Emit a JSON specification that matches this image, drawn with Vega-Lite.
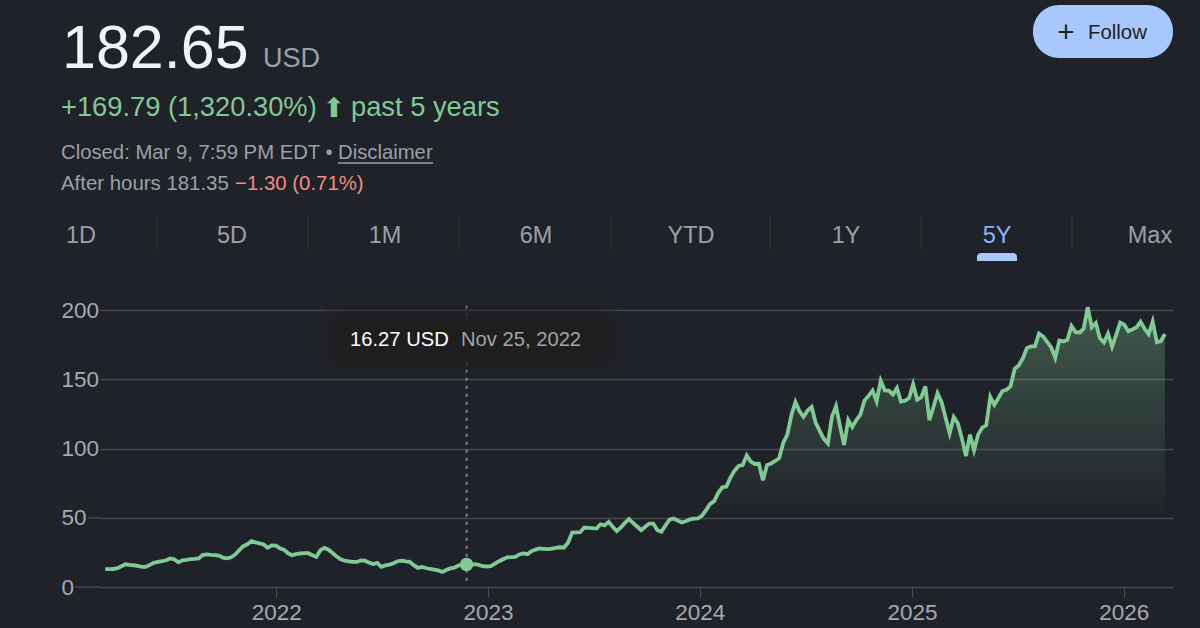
{
  "$schema": "https://vega.github.io/schema/vega-lite/v6.json",
  "description": "Five year stock price quote card.",
  "autosize": {"type": "none"},
  "padding": {"left": 100, "top": 310, "right": 27, "bottom": 41},
  "width": 1073,
  "height": 277,
  "background": "#202229",
  "config": {
    "font": "Liberation Sans",
    "view": {"stroke": null},
    "text": {"baseline": "alphabetic", "align": "left"}
  },
  "datasets": {
    "price": [
      {"date":"2021-03-12","close":12.9},{"date":"2021-03-19","close":12.9},{"date":"2021-03-26","close":13},
      {"date":"2021-04-02","close":13.6},{"date":"2021-04-09","close":15},{"date":"2021-04-16","close":16.4},{"date":"2021-04-23","close":16},{"date":"2021-04-30","close":15.7},
      {"date":"2021-05-07","close":15.2},{"date":"2021-05-14","close":14.5},{"date":"2021-05-21","close":14.6},{"date":"2021-05-28","close":16},
      {"date":"2021-06-04","close":17.5},{"date":"2021-06-11","close":18.2},{"date":"2021-06-18","close":18.6},{"date":"2021-06-25","close":19.3},
      {"date":"2021-07-02","close":20.6},{"date":"2021-07-09","close":20},{"date":"2021-07-16","close":17.8},{"date":"2021-07-23","close":19.3},{"date":"2021-07-30","close":19.6},
      {"date":"2021-08-06","close":20.2},{"date":"2021-08-13","close":20.3},{"date":"2021-08-20","close":20.6},{"date":"2021-08-27","close":23},
      {"date":"2021-09-03","close":23.5},{"date":"2021-09-10","close":23.2},{"date":"2021-09-17","close":23},{"date":"2021-09-24","close":22.7},
      {"date":"2021-10-01","close":21.2},{"date":"2021-10-08","close":20.7},{"date":"2021-10-15","close":21.5},{"date":"2021-10-22","close":23.4},{"date":"2021-10-29","close":26.5},
      {"date":"2021-11-05","close":29.5},{"date":"2021-11-12","close":30.8},{"date":"2021-11-19","close":33.2},{"date":"2021-11-26","close":32.2},
      {"date":"2021-12-03","close":31.5},{"date":"2021-12-10","close":30.7},{"date":"2021-12-17","close":28.3},{"date":"2021-12-24","close":30},{"date":"2021-12-31","close":29.8},
      {"date":"2022-01-07","close":28},{"date":"2022-01-14","close":27},{"date":"2022-01-21","close":24.5},{"date":"2022-01-28","close":23},
      {"date":"2022-02-04","close":23.7},{"date":"2022-02-11","close":24.2},{"date":"2022-02-18","close":24.4},{"date":"2022-02-25","close":24.4},
      {"date":"2022-03-04","close":22.9},{"date":"2022-03-11","close":21.7},{"date":"2022-03-18","close":26.6},{"date":"2022-03-25","close":28.2},
      {"date":"2022-04-01","close":26.9},{"date":"2022-04-08","close":24.5},{"date":"2022-04-15","close":22},{"date":"2022-04-22","close":20},{"date":"2022-04-29","close":19},
      {"date":"2022-05-06","close":18.5},{"date":"2022-05-13","close":18.1},{"date":"2022-05-20","close":18.1},{"date":"2022-05-27","close":19.2},
      {"date":"2022-06-03","close":19},{"date":"2022-06-10","close":17.6},{"date":"2022-06-17","close":16.6},{"date":"2022-06-24","close":17.4},
      {"date":"2022-07-01","close":14.5},{"date":"2022-07-08","close":15.6},{"date":"2022-07-15","close":16.2},{"date":"2022-07-22","close":17.2},{"date":"2022-07-29","close":18.6},
      {"date":"2022-08-05","close":19},{"date":"2022-08-12","close":18.5},{"date":"2022-08-19","close":18.2},{"date":"2022-08-26","close":15.8},
      {"date":"2022-09-02","close":13.8},{"date":"2022-09-09","close":14.5},{"date":"2022-09-16","close":13.7},{"date":"2022-09-23","close":13},{"date":"2022-09-30","close":12.5},
      {"date":"2022-10-07","close":12},{"date":"2022-10-14","close":10.9},{"date":"2022-10-21","close":12.3},{"date":"2022-10-28","close":13.4},
      {"date":"2022-11-04","close":14},{"date":"2022-11-11","close":15.5},{"date":"2022-11-18","close":16.2},{"date":"2022-11-25","close":16.27},
      {"date":"2022-12-02","close":16},{"date":"2022-12-09","close":16.5},{"date":"2022-12-16","close":16},{"date":"2022-12-23","close":15},{"date":"2022-12-30","close":14.8},
      {"date":"2023-01-06","close":15},{"date":"2023-01-13","close":16.8},{"date":"2023-01-20","close":18.6},{"date":"2023-01-27","close":20},
      {"date":"2023-02-03","close":21.4},{"date":"2023-02-10","close":21.5},{"date":"2023-02-17","close":21.7},{"date":"2023-02-24","close":23.5},
      {"date":"2023-03-03","close":24.2},{"date":"2023-03-10","close":23.7},{"date":"2023-03-17","close":25.8},{"date":"2023-03-24","close":27},{"date":"2023-03-31","close":27.8},
      {"date":"2023-04-07","close":27.6},{"date":"2023-04-14","close":27.3},{"date":"2023-04-21","close":27.7},{"date":"2023-04-28","close":28.3},
      {"date":"2023-05-05","close":28.7},{"date":"2023-05-12","close":28.5},{"date":"2023-05-19","close":32},{"date":"2023-05-26","close":39.3},
      {"date":"2023-06-02","close":39.5},{"date":"2023-06-09","close":39.6},{"date":"2023-06-16","close":42.9},{"date":"2023-06-23","close":42.7},{"date":"2023-06-30","close":42.5},
      {"date":"2023-07-07","close":42.2},{"date":"2023-07-14","close":45.3},{"date":"2023-07-21","close":44.5},{"date":"2023-07-28","close":47},
      {"date":"2023-08-04","close":43.5},{"date":"2023-08-11","close":40.3},{"date":"2023-08-18","close":43},{"date":"2023-08-25","close":46.3},
      {"date":"2023-09-01","close":49},{"date":"2023-09-08","close":46.3},{"date":"2023-09-15","close":43.7},{"date":"2023-09-22","close":41},{"date":"2023-09-29","close":43.5},
      {"date":"2023-10-06","close":45.8},{"date":"2023-10-13","close":45.8},{"date":"2023-10-20","close":41},{"date":"2023-10-27","close":40},
      {"date":"2023-11-03","close":44.5},{"date":"2023-11-10","close":48.6},{"date":"2023-11-17","close":49.5},{"date":"2023-11-24","close":48},
      {"date":"2023-12-01","close":46.6},{"date":"2023-12-08","close":47.5},{"date":"2023-12-15","close":48.8},{"date":"2023-12-22","close":49.3},{"date":"2023-12-29","close":49.5},
      {"date":"2024-01-05","close":51.5},{"date":"2024-01-12","close":55.5},{"date":"2024-01-19","close":60},{"date":"2024-01-26","close":62},
      {"date":"2024-02-02","close":68},{"date":"2024-02-09","close":72},{"date":"2024-02-16","close":72.5},{"date":"2024-02-23","close":79},
      {"date":"2024-03-01","close":84},{"date":"2024-03-08","close":87.4},{"date":"2024-03-15","close":88},{"date":"2024-03-22","close":95},{"date":"2024-03-29","close":90.5},
      {"date":"2024-04-05","close":88.8},{"date":"2024-04-12","close":89},{"date":"2024-04-19","close":77},{"date":"2024-04-26","close":88},
      {"date":"2024-05-03","close":89.2},{"date":"2024-05-10","close":91},{"date":"2024-05-17","close":93},{"date":"2024-05-24","close":104},{"date":"2024-05-31","close":110},
      {"date":"2024-06-07","close":124},{"date":"2024-06-14","close":133.5},{"date":"2024-06-21","close":127},{"date":"2024-06-28","close":122.8},
      {"date":"2024-07-05","close":127.5},{"date":"2024-07-12","close":130},{"date":"2024-07-19","close":118.5},{"date":"2024-07-26","close":112.5},
      {"date":"2024-08-02","close":107},{"date":"2024-08-09","close":103.7},{"date":"2024-08-16","close":123},{"date":"2024-08-23","close":130.5},{"date":"2024-08-30","close":116},
      {"date":"2024-09-06","close":102.5},{"date":"2024-09-13","close":120.6},{"date":"2024-09-20","close":115.5},{"date":"2024-09-27","close":120.5},
      {"date":"2024-10-04","close":124.5},{"date":"2024-10-11","close":134.6},{"date":"2024-10-18","close":138},{"date":"2024-10-25","close":141.8},
      {"date":"2024-11-01","close":134},{"date":"2024-11-08","close":149},{"date":"2024-11-15","close":142},{"date":"2024-11-22","close":141.8},{"date":"2024-11-29","close":139},
      {"date":"2024-12-06","close":143.6},{"date":"2024-12-13","close":133.9},{"date":"2024-12-20","close":134.5},{"date":"2024-12-27","close":136.5},
      {"date":"2025-01-03","close":146.4},{"date":"2025-01-10","close":135.2},{"date":"2025-01-17","close":137},{"date":"2025-01-24","close":144.8},{"date":"2025-01-31","close":120.5},
      {"date":"2025-02-07","close":130},{"date":"2025-02-14","close":140},{"date":"2025-02-21","close":133.5},{"date":"2025-02-28","close":122},
      {"date":"2025-03-07","close":111},{"date":"2025-03-14","close":122.6},{"date":"2025-03-21","close":118.2},{"date":"2025-03-28","close":107.3},
      {"date":"2025-04-04","close":94.6},{"date":"2025-04-11","close":110},{"date":"2025-04-18","close":98.9},{"date":"2025-04-25","close":110},
      {"date":"2025-05-02","close":115},{"date":"2025-05-09","close":116.7},{"date":"2025-05-16","close":137.2},{"date":"2025-05-23","close":131.5},{"date":"2025-05-30","close":136.5},
      {"date":"2025-06-06","close":141.5},{"date":"2025-06-13","close":142.4},{"date":"2025-06-20","close":145},{"date":"2025-06-27","close":157.5},
      {"date":"2025-07-04","close":160},{"date":"2025-07-11","close":165},{"date":"2025-07-18","close":172.5},{"date":"2025-07-25","close":173.7},
      {"date":"2025-08-01","close":173.7},{"date":"2025-08-08","close":183},{"date":"2025-08-15","close":181},{"date":"2025-08-22","close":177},{"date":"2025-08-29","close":173},
      {"date":"2025-09-05","close":165.5},{"date":"2025-09-12","close":178},{"date":"2025-09-19","close":177.3},{"date":"2025-09-26","close":178.5},
      {"date":"2025-10-03","close":188.5},{"date":"2025-10-10","close":184},{"date":"2025-10-17","close":183.8},{"date":"2025-10-24","close":186.5},{"date":"2025-10-31","close":202},
      {"date":"2025-11-07","close":187.5},{"date":"2025-11-14","close":190.6},{"date":"2025-11-21","close":179.5},{"date":"2025-11-28","close":176.5},
      {"date":"2025-12-05","close":183},{"date":"2025-12-12","close":173.5},{"date":"2025-12-19","close":182},{"date":"2025-12-26","close":191},
      {"date":"2026-01-02","close":189.4},{"date":"2026-01-09","close":184.6},{"date":"2026-01-16","close":186},{"date":"2026-01-23","close":187.5},{"date":"2026-01-30","close":191.5},
      {"date":"2026-02-06","close":186.5},{"date":"2026-02-13","close":182.6},{"date":"2026-02-20","close":191.7},{"date":"2026-02-27","close":176.8},
      {"date":"2026-03-06","close":177.5},{"date":"2026-03-13","close":182.65}
    ],
    "selected": [{"date": "2022-11-25", "close": 16.27}]
  },
  "encoding": {
    "x": {
      "field": "date",
      "type": "temporal",
      "scale": {"type": "utc", "domain": ["2021-03-03", "2026-03-27"]},
      "axis": {
        "title": null,
        "grid": false,
        "domain": false,
        "tickCount": {"interval": "year", "step": 1},
        "format": "%Y",
        "tickColor": "#4a4c53",
        "tickSize": 10,
        "tickWidth": 1,
        "labelPadding": 4,
        "labelFontSize": 22.5,
        "labelColor": "#a6a8b0",
        "labelFlush": false
      }
    },
    "y": {
      "field": "close",
      "type": "quantitative",
      "scale": {"domain": [0, 200], "nice": false},
      "axis": {
        "title": null,
        "values": [0, 50, 100, 150, 200],
        "grid": true,
        "gridColor": "#46484f",
        "gridWidth": 1.5,
        "domain": false,
        "ticks": false,
        "labelAlign": "left",
        "labelPadding": 39,
        "labelFontSize": 22.5,
        "labelColor": "#a6a8b0"
      }
    }
  },
  "layer": [
    {"data": {"values": [{"level": 0}]}, "mark": {"type": "rule", "color": "#46484f", "strokeWidth": 1.5, "x": -25, "x2": 0}, "encoding": {"x": null, "y": {"field": "level", "type": "quantitative"}}},
    {"data": {"values": [{"level": 50}]}, "mark": {"type": "rule", "color": "#46484f", "strokeWidth": 1.5, "x": -12, "x2": 0}, "encoding": {"x": null, "y": {"field": "level", "type": "quantitative"}}},
    {
      "data": {"name": "price"},
      "mark": {
        "type": "area",
        "color": {
          "gradient": "linear", "x1": 0, "y1": 0, "x2": 0, "y2": 1,
          "stops": [
            {"offset": 0, "color": "rgba(129,201,149,0.33)"},
            {"offset": 0.75, "color": "rgba(129,201,149,0)"}
          ]
        }
      }
    },
    {"data": {"name": "price"}, "mark": {"type": "line", "color": "#81c995", "strokeWidth": 3.8}},
    {
      "data": {"name": "selected"},
      "mark": {"type": "rule", "color": "#80838b", "strokeWidth": 2, "strokeDash": [3, 5]},
      "encoding": {"y": {"datum": 203}, "y2": {"datum": 3}}
    },
    {"data": {"name": "selected"}, "mark": {"type": "point", "filled": true, "opacity": 1, "color": "#81c995", "size": 180}},

    {"data": {"values": [{}]}, "mark": {"type": "rect", "color": "#1e1e1f", "opacity": 0.2, "x": 218, "x2": 524, "y": -8, "y2": 68, "cornerRadius": 24}, "encoding": {"x": null, "y": null}},
    {"data": {"values": [{}]}, "mark": {"type": "rect", "color": "#1e1e1f", "opacity": 0.35, "x": 228, "x2": 514, "y": 0, "y2": 60, "cornerRadius": 18}, "encoding": {"x": null, "y": null}},
    {"data": {"values": [{}]}, "mark": {"type": "rect", "color": "#1e1e1f", "opacity": 0.6, "x": 236, "x2": 506, "y": 4, "y2": 54, "cornerRadius": 14}, "encoding": {"x": null, "y": null}},
    {"data": {"values": [{}]}, "mark": {"type": "rect", "color": "#1e1e1f", "x": 243, "x2": 498, "y": 6, "y2": 52, "cornerRadius": 10}, "encoding": {"x": null, "y": null}},
    {"data": {"values": [{"label": "16.27 USD"}]}, "mark": {"type": "text", "color": "#ffffff", "fontSize": 20.2, "x": 250, "y": 36}, "encoding": {"x": null, "y": null, "text": {"field": "label"}}},
    {"data": {"values": [{"label": "Nov 25, 2022"}]}, "mark": {"type": "text", "color": "#a3a3a3", "fontSize": 20.2, "x": 361, "y": 36}, "encoding": {"x": null, "y": null, "text": {"field": "label"}}},

    {"data": {"values": [{"label": "182.65"}]}, "mark": {"type": "text", "color": "#f1f3f4", "fontSize": 61, "x": -38, "y": -242}, "encoding": {"x": null, "y": null, "text": {"field": "label"}}},
    {"data": {"values": [{"label": "USD"}]}, "mark": {"type": "text", "color": "#9aa0a6", "fontSize": 27, "x": 163, "y": -243}, "encoding": {"x": null, "y": null, "text": {"field": "label"}}},
    {"data": {"values": [{"label": "+169.79 (1,320.30%)"}]}, "mark": {"type": "text", "color": "#81c995", "fontSize": 27.3, "x": -39, "y": -194}, "encoding": {"x": null, "y": null, "text": {"field": "label"}}},
    {"data": {"values": [{"label": "⬆"}]}, "mark": {"type": "text", "color": "#81c995", "fontSize": 27, "font": "DejaVu Sans", "align": "center", "x": 234, "y": -193}, "encoding": {"x": null, "y": null, "text": {"field": "label"}}},
    {"data": {"values": [{"label": "past 5 years"}]}, "mark": {"type": "text", "color": "#81c995", "fontSize": 27.3, "x": 251, "y": -194}, "encoding": {"x": null, "y": null, "text": {"field": "label"}}},
    {"data": {"values": [{"label": "Closed: Mar 9, 7:59 PM EDT •"}]}, "mark": {"type": "text", "color": "#9aa0a6", "fontSize": 20.3, "x": -39, "y": -151}, "encoding": {"x": null, "y": null, "text": {"field": "label"}}},
    {"data": {"values": [{"label": "Disclaimer"}]}, "mark": {"type": "text", "color": "#9aa0a6", "fontSize": 20.3, "x": 238, "y": -151}, "encoding": {"x": null, "y": null, "text": {"field": "label"}}},
    {"data": {"values": [{}]}, "mark": {"type": "rule", "color": "#9aa0a6", "strokeWidth": 1.3}, "encoding": {"x": {"value": 238}, "x2": {"value": 333}, "y": {"value": -147}}},
    {"data": {"values": [{"label": "After hours 181.35"}]}, "mark": {"type": "text", "color": "#9aa0a6", "fontSize": 20.4, "x": -39, "y": -120}, "encoding": {"x": null, "y": null, "text": {"field": "label"}}},
    {"data": {"values": [{"label": "−1.30 (0.71%)"}]}, "mark": {"type": "text", "color": "#f28b82", "fontSize": 20.4, "x": 135, "y": -120}, "encoding": {"x": null, "y": null, "text": {"field": "label"}}},

    {"data": {"values": [{"label": "1D"}]}, "mark": {"type": "text", "color": "#9aa0a6", "fontSize": 23.5, "align": "center", "x": -19, "y": -67}, "encoding": {"x": null, "y": null, "text": {"field": "label"}}},
    {"data": {"values": [{"label": "5D"}]}, "mark": {"type": "text", "color": "#9aa0a6", "fontSize": 23.5, "align": "center", "x": 132, "y": -67}, "encoding": {"x": null, "y": null, "text": {"field": "label"}}},
    {"data": {"values": [{"label": "1M"}]}, "mark": {"type": "text", "color": "#9aa0a6", "fontSize": 23.5, "align": "center", "x": 285, "y": -67}, "encoding": {"x": null, "y": null, "text": {"field": "label"}}},
    {"data": {"values": [{"label": "6M"}]}, "mark": {"type": "text", "color": "#9aa0a6", "fontSize": 23.5, "align": "center", "x": 436, "y": -67}, "encoding": {"x": null, "y": null, "text": {"field": "label"}}},
    {"data": {"values": [{"label": "YTD"}]}, "mark": {"type": "text", "color": "#9aa0a6", "fontSize": 23.5, "align": "center", "x": 591, "y": -67}, "encoding": {"x": null, "y": null, "text": {"field": "label"}}},
    {"data": {"values": [{"label": "1Y"}]}, "mark": {"type": "text", "color": "#9aa0a6", "fontSize": 23.5, "align": "center", "x": 746, "y": -67}, "encoding": {"x": null, "y": null, "text": {"field": "label"}}},
    {"data": {"values": [{"label": "5Y"}]}, "mark": {"type": "text", "color": "#8ab4f8", "fontSize": 23.5, "align": "center", "x": 897, "y": -67}, "encoding": {"x": null, "y": null, "text": {"field": "label"}}},
    {"data": {"values": [{"label": "Max"}]}, "mark": {"type": "text", "color": "#9aa0a6", "fontSize": 23.5, "align": "center", "x": 1050, "y": -67}, "encoding": {"x": null, "y": null, "text": {"field": "label"}}},
    {"data": {"values": [{}]}, "mark": {"type": "rule", "color": "#33353b", "strokeWidth": 1}, "encoding": {"x": {"value": 57}, "y": {"value": -94}, "y2": {"value": -60}}},
    {"data": {"values": [{}]}, "mark": {"type": "rule", "color": "#33353b", "strokeWidth": 1}, "encoding": {"x": {"value": 208}, "y": {"value": -94}, "y2": {"value": -60}}},
    {"data": {"values": [{}]}, "mark": {"type": "rule", "color": "#33353b", "strokeWidth": 1}, "encoding": {"x": {"value": 359}, "y": {"value": -94}, "y2": {"value": -60}}},
    {"data": {"values": [{}]}, "mark": {"type": "rule", "color": "#33353b", "strokeWidth": 1}, "encoding": {"x": {"value": 511}, "y": {"value": -94}, "y2": {"value": -60}}},
    {"data": {"values": [{}]}, "mark": {"type": "rule", "color": "#33353b", "strokeWidth": 1}, "encoding": {"x": {"value": 670}, "y": {"value": -94}, "y2": {"value": -60}}},
    {"data": {"values": [{}]}, "mark": {"type": "rule", "color": "#33353b", "strokeWidth": 1}, "encoding": {"x": {"value": 821}, "y": {"value": -94}, "y2": {"value": -60}}},
    {"data": {"values": [{}]}, "mark": {"type": "rule", "color": "#33353b", "strokeWidth": 1}, "encoding": {"x": {"value": 972}, "y": {"value": -94}, "y2": {"value": -60}}},
    {"data": {"values": [{}]}, "mark": {"type": "rect", "color": "#a8c7fa", "x": 877, "x2": 917, "y": -57, "y2": -49, "cornerRadiusTopLeft": 8, "cornerRadiusTopRight": 8}, "encoding": {"x": null, "y": null}},

    {"data": {"values": [{}]}, "mark": {"type": "rect", "color": "#a8c7fa", "x": 933, "x2": 1073, "y": -305, "y2": -252, "cornerRadius": 26}, "encoding": {"x": null, "y": null}},
    {"data": {"values": [{"label": "+"}]}, "mark": {"type": "text", "color": "#1f1f1f", "fontSize": 29, "align": "center", "x": 966, "y": -268}, "encoding": {"x": null, "y": null, "text": {"field": "label"}}},
    {"data": {"values": [{"label": "Follow"}]}, "mark": {"type": "text", "color": "#1f1f1f", "fontSize": 20.4, "x": 988, "y": -271}, "encoding": {"x": null, "y": null, "text": {"field": "label"}}}
  ]
}
